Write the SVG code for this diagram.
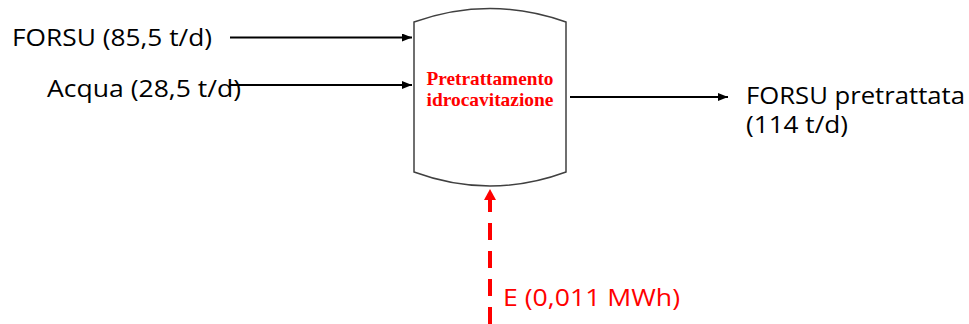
<svg xmlns="http://www.w3.org/2000/svg" width="969" height="324" viewBox="0 0 969 324">
<style>
.lbl{font-family:"Open Sans","Liberation Sans",Arial,sans-serif;font-size:23.5px;fill:#000}
.red{fill:#FF0000}
.node{font-family:"Liberation Serif","Times New Roman",serif;font-weight:bold;font-size:19px;fill:#FF0000}
.flow{stroke:#000;stroke-width:2;fill:none}
.energy{stroke:#FF0000;stroke-width:4;fill:none;stroke-dasharray:17 11}
</style>
<defs>
<marker id="ah" viewBox="0 0 10 8" refX="10" refY="4" markerWidth="10" markerHeight="8" markerUnits="userSpaceOnUse" orient="auto">
<path d="M0,0 L10,4 L0,8 z" fill="#000"/>
</marker>
</defs>
<rect width="969" height="324" fill="#fff"/>
<g id="node-pretrattamento">
<path d="M414,22 Q490,-5 566,22 L566,172 Q490,200 414,172 Z" fill="#fff" stroke="#404040" stroke-width="1.5"/>
<text class="node" x="490" y="85" text-anchor="middle" textLength="127" lengthAdjust="spacingAndGlyphs">Pretrattamento</text>
<text class="node" x="490" y="106" text-anchor="middle" textLength="127" lengthAdjust="spacingAndGlyphs">idrocavitazione</text>
</g>
<g id="node-forsu">
<text class="lbl" x="12" y="46" textLength="200" lengthAdjust="spacingAndGlyphs">FORSU (85,5 t/d)</text>
</g>
<g id="node-acqua">
<text class="lbl" x="47" y="97" textLength="194" lengthAdjust="spacingAndGlyphs">Acqua (28,5 t/d)</text>
</g>
<g id="node-output">
<text class="lbl" x="746" y="104" textLength="219" lengthAdjust="spacingAndGlyphs">FORSU pretrattata</text>
<text class="lbl" x="746" y="133" textLength="102" lengthAdjust="spacingAndGlyphs">(114 t/d)</text>
</g>
<g id="node-energy">
<text class="lbl red" x="503" y="306" textLength="177" lengthAdjust="spacingAndGlyphs">E (0,011 MWh)</text>
</g>
<g id="connectors">
<line class="flow" x1="230" y1="37.5" x2="412" y2="37.5" marker-end="url(#ah)"/>
<line class="flow" x1="230" y1="85" x2="412" y2="85" marker-end="url(#ah)"/>
<line class="flow" x1="570" y1="97" x2="728" y2="97" marker-end="url(#ah)"/>
<line class="energy" x1="490" y1="324" x2="490" y2="200"/>
<path d="M484,200 L490,189 L496,200 z" fill="#FF0000"/>
</g>
</svg>
